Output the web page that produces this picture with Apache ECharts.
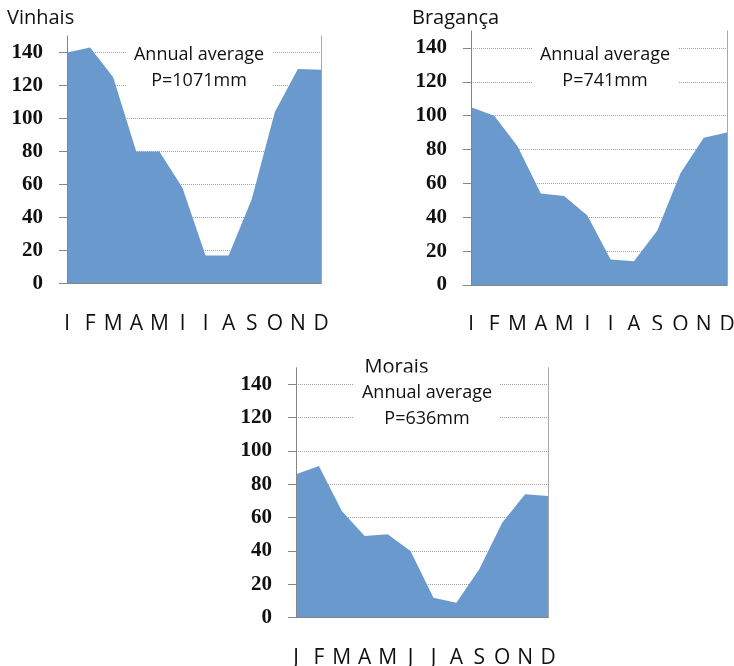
<!DOCTYPE html>
<html>
<head>
<meta charset="utf-8">
<script src="https://cdn.jsdelivr.net/npm/echarts@6/dist/echarts.min.js"></script>
<style>
html,body{margin:0;padding:0;background:#fff;overflow:hidden;width:734px;height:666px;}
.c{position:absolute;}
</style>
</head>
<body>
<div id="c1" class="c" style="left:0px;top:0px;width:367px;height:330px;"></div>
<div id="c2" class="c" style="left:367px;top:0px;width:367px;height:330px;"></div>
<div id="c3" class="c" style="left:200px;top:340px;width:367px;height:326px;"></div>
<script>
// ---- data ----
var months = ['J','F','M','A','M','J','J','A','S','O','N','D'];
var yTickMax = 140;      // last labelled tick
var yAxisMax = 150;      // top of the plot area
var yInterval = 20;
var stations = ['Vinhais','Bragança','Morais'];
var annualTotals = ['P=1071mm','P=741mm','P=636mm'];
var vinhais  = [140, 143, 125, 80, 80, 58, 17, 17, 51, 104, 130, 129.5];
var braganca = [105, 100, 82, 54, 52.5, 41, 15, 14, 32, 66, 87, 90];
var morais   = [86, 91, 64, 49, 50, 40, 12, 9, 29, 57, 74, 73];

var AXIS = '#868686';
var AREA = '#6a9acd';

function makeOption(name, total, values, L) {
  var tickH = L.gh * yTickMax / yAxisMax;
  return {
    animation: false,
    grid: [
      { left: L.gl, top: L.gt, width: L.gw, height: L.gh, containLabel: false, outerBoundsMode: 'none' },
      { left: L.gl, top: L.gt + L.gh - tickH, width: L.gw, height: tickH, containLabel: false, outerBoundsMode: 'none' }
    ],
    xAxis: [{
      type: 'category', data: months, boundaryGap: false, gridIndex: 0,
      axisLine: { show: true, lineStyle: { color: AXIS, width: 1 } },
      axisTick: { show: false },
      axisLabel: { interval: 0, margin: 30, fontFamily: 'Open Sans', fontSize: 21, color: '#111' },
      splitLine: { show: false }, z: 3
    }, {
      type: 'category', data: months, boundaryGap: false, gridIndex: 1, show: false
    }],
    yAxis: [{
      type: 'value', min: 0, max: yAxisMax, gridIndex: 0,
      axisLine: { show: true, lineStyle: { color: AXIS, width: 1 } },
      axisTick: { show: false }, axisLabel: { show: false }, splitLine: { show: false }, z: 3
    }, {
      type: 'value', min: 0, max: yAxisMax, position: 'right', gridIndex: 0,
      axisLine: { show: true, lineStyle: { color: '#a8a8a8', width: 1 } },
      axisTick: { show: false }, axisLabel: { show: false }, splitLine: { show: false }
    }, {
      type: 'value', min: 0, max: yTickMax, interval: yInterval, gridIndex: 1, position: 'left',
      axisLine: { show: true, lineStyle: { color: AXIS, width: 1 } },
      axisTick: { show: true, inside: false, length: 8, lineStyle: { color: AXIS, width: 1 } },
      axisLabel: { margin: 24, fontFamily: 'Liberation Serif', fontSize: 21, fontWeight: 'bold', color: '#111' },
      splitLine: { show: true, lineStyle: { color: '#a0a0a0', type: 'dotted', width: 1 } }
    }],
    series: [{
      type: 'line', data: values, xAxisIndex: 0, yAxisIndex: 0,
      symbol: 'none', silent: true, z: 2,
      lineStyle: { width: 0, opacity: 0 },
      areaStyle: { color: AREA, opacity: 1 }
    }],
    graphic: [{
      type: 'text', z: 50,
      style: { text: name, x: L.tx, y: L.ty, align: L.ta, textAlign: L.ta, verticalAlign: 'middle', textVerticalAlign: 'middle',
               font: '20px "Open Sans"', fill: '#111' }
    }, {
      type: 'text', z: 100,
      style: { text: 'Annual average\n' + total, x: L.ax, y: L.ay, align: 'center', textAlign: 'center',
               verticalAlign: 'middle', textVerticalAlign: 'middle', lineHeight: 26,
               font: '18px "Open Sans"', fill: '#111', backgroundColor: '#ffffff', padding: [8, 8, 6, 8] }
    }]
  };
}

var layouts = [
  { gl: 67, gt: 36, gw: 254, gh: 247.5, tx: 7, ty: 18, ta: 'left', ax: 199, ay: 68 },
  { gl: 104, gt: 31, gw: 256, gh: 254, tx: 45, ty: 18, ta: 'left', ax: 238, ay: 67.5 },
  { gl: 96, gt: 27.7, gw: 252, gh: 250, tx: 196.5, ty: 27, ta: 'center', ax: 227, ay: 65.5 }
];
var seriesVals = [vinhais, braganca, morais];
['c1','c2','c3'].forEach(function (id, i) {
  var ch = echarts.init(document.getElementById(id), null, { renderer: 'canvas' });
  ch.setOption(makeOption(stations[i], annualTotals[i], seriesVals[i], layouts[i]));
});
</script>
</body>
</html>
